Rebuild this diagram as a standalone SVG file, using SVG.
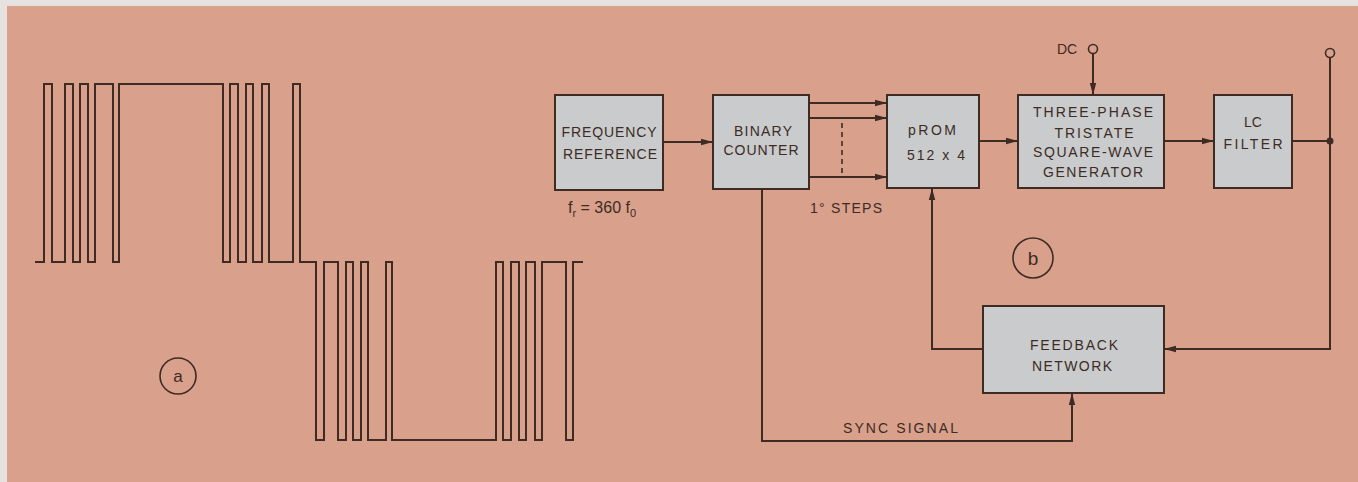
<svg xmlns="http://www.w3.org/2000/svg" width="1358" height="482" viewBox="0 0 1358 482">
<style>
.bg{fill:#d9a08b}
.box{fill:#c9cbcc;stroke:#3d2b24;stroke-width:2}
.ln{fill:none;stroke:#3d2b24;stroke-width:2}
.wave{fill:none;stroke:#3d2b24;stroke-width:2;stroke-linejoin:miter}
.t{font-family:"Liberation Sans",Arial,sans-serif;font-size:14px;fill:#3d2b24;text-anchor:middle}
.tl{font-family:"Liberation Sans",Arial,sans-serif;font-size:14px;fill:#3d2b24}
.c{fill:none;stroke:#3d2b24;stroke-width:1.6}
</style>
<defs>
<marker id="ah" markerUnits="userSpaceOnUse" markerWidth="12" markerHeight="8" refX="12" refY="4" orient="auto">
<path d="M0,0.8 L12,4 L0,7.2 z" fill="#3d2b24"/>
</marker>
</defs>
<rect x="0" y="0" width="1358" height="482" fill="#e6e2df"/>
<rect class="bg" x="7" y="6" width="1351" height="476"/>

<g id="waveform">
<path class="wave" d="M35,262 H44 V84 H52 V262 H65 V84 H73 V262 H80 V84 H88 V262 H95 V84 H113 V262 H119 V84 H223 V262 H230 V84 H238 V262 H246 V84 H253 V262 H262 V84 H269 V262 H293 V84 H300 V262 H316 V440 H324 V262 H338 V440 H346 V262 H353 V440 H361 V262 H368 V440 H386 V262 H392 V440 H496 V262 H503 V440 H511 V262 H519 V440 H526 V262 H535 V440 H542 V262 H566 V440 H573 V262 H583"/>
</g>
<g id="label-a">
<circle class="c" cx="178" cy="376" r="18"/>
<text class="t" x="178" y="382" style="font-size:17px">a</text>
</g>

<g id="connectors">
<line class="ln" x1="663" y1="142" x2="713" y2="142" marker-end="url(#ah)"/>
<line class="ln" x1="809" y1="103" x2="887" y2="103" marker-end="url(#ah)"/>
<line class="ln" x1="809" y1="118" x2="887" y2="118" marker-end="url(#ah)"/>
<line class="ln" x1="809" y1="177" x2="887" y2="177" marker-end="url(#ah)"/>
<line x1="842" y1="123" x2="842" y2="175" stroke="#3d2b24" stroke-width="1.6" stroke-dasharray="5,4"/>
<line class="ln" x1="979" y1="141" x2="1018" y2="141" marker-end="url(#ah)"/>
<line class="ln" x1="1093" y1="54" x2="1093" y2="95" marker-end="url(#ah)"/>
<line class="ln" x1="1164" y1="141" x2="1214" y2="141" marker-end="url(#ah)"/>
<line class="ln" x1="1292" y1="141" x2="1330" y2="141"/>
<polyline class="ln" points="1330,58 1330,349 1164,349" marker-end="url(#ah)"/>
<circle cx="1330" cy="141" r="3.5" fill="#3d2b24"/>
<circle class="c" cx="1330" cy="53" r="4.5"/>
<circle class="c" cx="1093" cy="49" r="4.5"/>
<polyline class="ln" points="983,349 932,349 932,188" marker-end="url(#ah)"/>
<polyline class="ln" points="762,189 762,441 1072,441 1072,393" marker-end="url(#ah)"/>
</g>

<g id="freq-ref">
<rect class="box" x="555" y="95" width="108" height="95"/>
<text class="t" x="609" y="137" textLength="95">FREQUENCY</text>
<text class="t" x="610" y="159" textLength="94">REFERENCE</text>
</g>
<g id="binary-counter">
<rect class="box" x="713" y="95" width="96" height="94"/>
<text class="t" x="763" y="136" textLength="58">BINARY</text>
<text class="t" x="761" y="155" textLength="75">COUNTER</text>
</g>
<g id="prom">
<rect class="box" x="887" y="95" width="92" height="93"/>
<text class="t" x="932" y="135" textLength="48">pROM</text>
<text class="t" x="936" y="160" textLength="58">512 x 4</text>
</g>
<g id="generator">
<rect class="box" x="1018" y="95" width="146" height="93"/>
<text class="t" x="1093" y="117" textLength="120">THREE-PHASE</text>
<text class="t" x="1094" y="138" textLength="79">TRISTATE</text>
<text class="t" x="1093" y="157" textLength="120">SQUARE-WAVE</text>
<text class="t" x="1093" y="177" textLength="100">GENERATOR</text>
</g>
<g id="lc-filter">
<rect class="box" x="1214" y="95" width="78" height="93"/>
<text class="t" x="1253" y="127">LC</text>
<text class="t" x="1253" y="149" textLength="59">FILTER</text>
</g>
<g id="feedback">
<rect class="box" x="983" y="306" width="181" height="87"/>
<text class="t" x="1074" y="350" textLength="88">FEEDBACK</text>
<text class="t" x="1072" y="371" textLength="80">NETWORK</text>
</g>

<g id="labels">
<text class="t" x="1067" y="54">DC</text>
<text class="tl" x="568" y="213" style="font-size:16px">f<tspan dy="4" style="font-size:11px">r</tspan><tspan dy="-4"> = 360 f</tspan><tspan dy="4" style="font-size:11px">0</tspan></text>
<text class="tl" x="810" y="213" textLength="72">1° STEPS</text>
<text class="tl" x="843" y="433" textLength="115">SYNC  SIGNAL</text>
<circle class="c" cx="1033" cy="258" r="20"/>
<text class="t" x="1033" y="265" style="font-size:19px">b</text>
</g>
</svg>
